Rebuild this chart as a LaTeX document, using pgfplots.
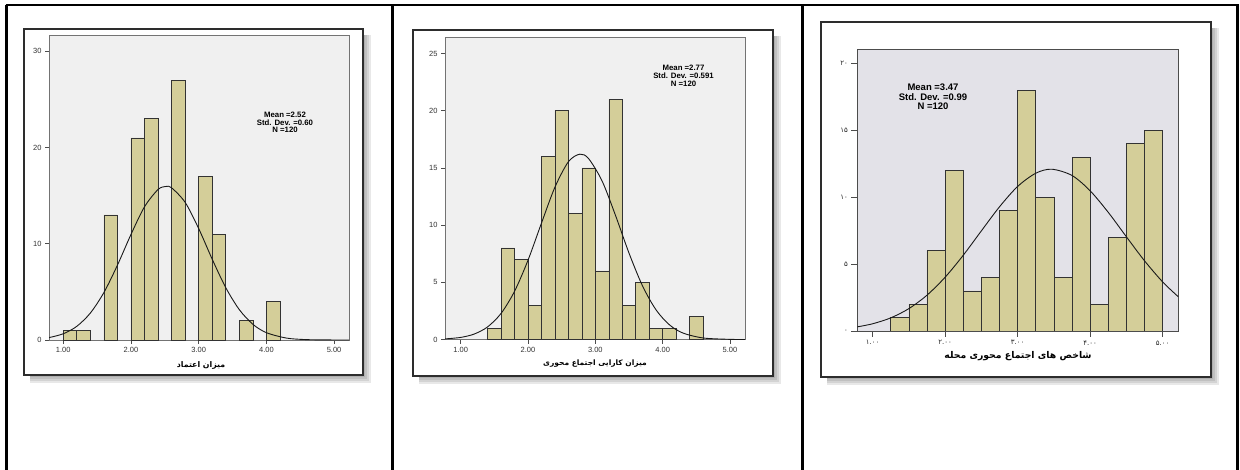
\documentclass[border=0pt]{standalone}
\usepackage{fontspec}
\setmainfont{Liberation Sans}
\newfontfamily\fa[Script=Arabic]{DejaVu Sans}
\TeXXeTstate=1
\usepackage{pgfplots}
\pgfplotsset{compat=1.18}

\definecolor{bgA}{RGB}{240,240,240}
\definecolor{bgC}{RGB}{227,226,232}
\definecolor{barA}{RGB}{212,206,153}
\definecolor{frm}{RGB}{45,45,45}

\pgfplotsset{hist/.style={
    scale only axis, anchor=south west,
    ymin=0, tick pos=left, tick align=outside,
    major tick length=4pt,
    axis line style={draw=black!55, line width=0.8pt},
    tick style={black!70, line width=0.6pt},
    tick label style={font=\fontsize{7.5}{8}\selectfont, text=black!80},
    xtick={1,2,3,4,5},
    xticklabels={1.00,2.00,3.00,4.00,5.00},
  },
  bars/.style={ybar, bar shift=0pt, fill=barA, draw=black!80, line width=0.6pt},
  curve/.style={smooth, black!90, line width=0.9pt},
}

\begin{document}
\begin{tikzpicture}
\begin{scope}[x=1pt,y=-1pt]
  \useasboundingbox (0,0) rectangle (1240,470);
  % table lines
  \draw[line width=2.5pt] (5.5,5) -- (1238.5,5);
  \foreach \xx in {6.7,392.7,802.7,1237.3} \draw[line width=2.5pt] (\xx,5) -- (\xx,480);
  % frames with shadow
  \foreach \k in {2,4,6,8} {
    \fill[black,opacity=0.09] (30,35) rectangle (363+\k,375+\k);
    \fill[black,opacity=0.09] (419,36) rectangle (773+\k,376+\k);
    \fill[black,opacity=0.09] (827,28) rectangle (1211+\k,377+\k);
  }
  \filldraw[fill=white, draw=frm, line width=1.5pt] (24,29) rectangle (363,375);
  \filldraw[fill=white, draw=frm, line width=1.5pt] (413,30) rectangle (773,376);
  \filldraw[fill=white, draw=frm, line width=1.5pt] (821,22) rectangle (1211,377);
  \coordinate (a1) at (49,340);
  \coordinate (a2) at (445,339.5);
  \coordinate (a3) at (857.3,331);
\end{scope}

% panel 1
\begin{axis}[hist, at={(a1)}, width=300pt, height=305pt,
  axis background/.style={fill=bgA},
  xmin=0.79, xmax=5.22, ymax=31.7,
  ytick={0,10,20,30}, yticklabels={0,10,20,30}]
\addplot[bars, bar width=0.2] coordinates {
  (1.1,1) (1.3,1) (1.7,13) (2.1,21) (2.3,23) (2.7,27)
  (3.1,17) (3.3,11) (3.7,2) (4.1,4)};
\addplot[curve] coordinates {
  (0.79,0.25) (1.0,0.645) (1.2,1.419) (1.4,2.796) (1.6,4.925)
  (1.8,7.769) (2.0,10.963) (2.2,13.84) (2.4,15.64) (2.52,15.96)
  (2.6,15.82) (2.8,14.31) (3.0,11.59) (3.2,8.397) (3.4,5.444)
  (3.6,3.159) (3.8,1.639) (4.0,0.762) (4.3,0.196) (4.6,0.039)
  (5.0,0.003) (5.22,0.001)};
\end{axis}

% panel 2
\begin{axis}[hist, at={(a2)}, width=300pt, height=302pt,
  axis background/.style={fill=bgA},
  xmin=0.767, xmax=5.223, ymax=26.4,
  ytick={0,5,10,15,20,25}, yticklabels={0,5,10,15,20,25}]
\addplot[bars, bar width=0.2] coordinates {
  (1.5,1) (1.7,8) (1.9,7) (2.1,3) (2.3,16) (2.5,20) (2.7,11)
  (2.9,15) (3.1,6) (3.3,21) (3.5,3) (3.7,5) (3.9,1) (4.1,1) (4.5,2)};
\addplot[curve] coordinates {
  (0.77,0.053) (1.0,0.183) (1.2,0.475) (1.4,1.103) (1.6,2.283)
  (1.8,4.213) (2.0,6.932) (2.2,10.175) (2.4,13.32) (2.6,15.54)
  (2.77,16.20) (2.9,15.81) (3.1,13.86) (3.3,10.84) (3.5,7.554)
  (3.7,4.696) (3.9,2.604) (4.1,1.288) (4.3,0.568) (4.6,0.134)
  (5.0,0.013) (5.22,0.002)};
\end{axis}

% panel 3
\begin{axis}[hist, at={(a3)}, width=321pt, height=281.7pt,
  axis background/.style={fill=bgC},
  axis line style={draw=black!70, line width=0.8pt},
  major tick length=6pt,
  tick label style={font=\fa\fontsize{7}{7.5}\selectfont, text=black!85},
  xmin=0.79, xmax=5.215, ymax=21.05,
  xticklabels={۱.۰۰,۲.۰۰,۳.۰۰,۴.۰۰,۵.۰۰},
  ytick={0,5,10,15,20}, yticklabels={۰,۵,۱۰,۱۵,۲۰}]
\addplot[bars, bar width=0.25] coordinates {
  (1.375,1) (1.625,2) (1.875,6) (2.125,12) (2.375,3) (2.625,4)
  (2.875,9) (3.125,18) (3.375,10) (3.625,4) (3.875,13) (4.125,2)
  (4.375,7) (4.625,14) (4.875,15)};
\addplot[curve] coordinates {
  (0.79,0.31) (1.0,0.538) (1.25,0.978) (1.5,1.669) (1.75,2.673)
  (2.0,4.015) (2.25,5.657) (2.5,7.481) (2.75,9.28) (3.0,10.80)
  (3.25,11.79) (3.47,12.09) (3.75,11.62) (4.0,10.475) (4.25,8.862)
  (4.5,7.036) (4.75,5.241) (5.0,3.663) (5.215,2.558)};
\end{axis}

\begin{scope}[x=1pt,y=-1pt]
  \node[align=center, font=\bfseries\fontsize{7.8}{7.6}\selectfont] at (285,122.5)
    {Mean =2.52\\Std. Dev. =0.60\\N =120};
  \node[align=center, font=\bfseries\fontsize{7.8}{7.6}\selectfont] at (683.5,75.8)
    {Mean =2.77\\Std. Dev. =0.591\\N =120};
  \node[align=center, font=\bfseries\fontsize{9.5}{9.7}\selectfont] at (933,97)
    {Mean =3.47\\Std. Dev. =0.99\\N =120};
  \node[font=\fa\bfseries\fontsize{7.8}{8}\selectfont] at (201,365) {\beginR میزان اعتماد\endR};
  \node[font=\fa\bfseries\fontsize{7.5}{8}\selectfont] at (595,364) {\beginR میزان کارایی اجتماع محوری\endR};
  \node[font=\fa\bfseries\fontsize{9.3}{11}\selectfont] at (1018,356.5) {\beginR شاخص های اجتماع محوری محله\endR};
\end{scope}
\end{tikzpicture}
\end{document}
